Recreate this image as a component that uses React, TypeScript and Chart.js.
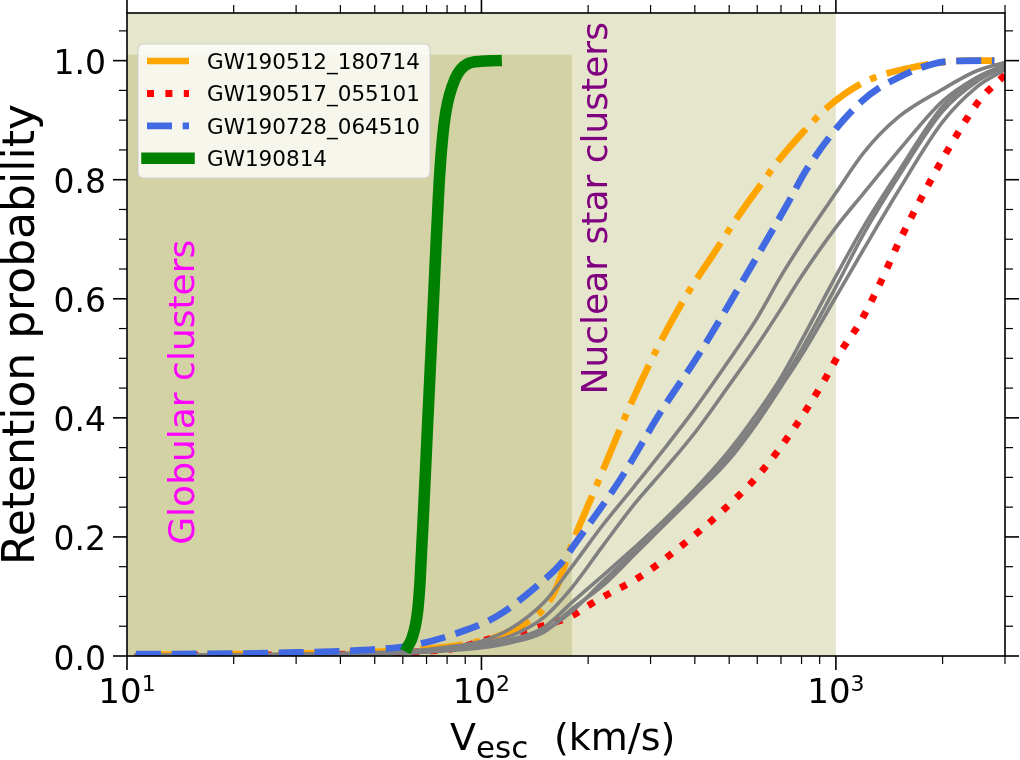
import React, { useEffect, useRef } from 'react';
import { Chart, registerables } from 'chart.js';

Chart.register(...registerables);

// Axis ranges
const V_MIN = 10;
const V_MAX = 3000;
const P_MIN = 0;
const P_MAX = 1.08;

// Shaded regions
const NSC_V_RANGE = [10, 1000];
const GC_V_RANGE = [10, 180];
const GC_P_TOP = 1.01;
const REGION_FILL = 'rgba(128, 128, 0, 0.2)';

// Region labels (data coords of text anchor: baseline x, centre y)
const GC_LABEL = { text: 'Globular clusters', v: 15.5, p: 0.443, color: '#ff00ff' };
const NSC_LABEL = { text: 'Nuclear star clusters', v: 226, p: 0.752, color: '#800080' };

// Ticks
const X_MAJOR_TICKS = [10, 100, 1000];
const X_MAJOR_EXPONENTS = ['1', '2', '3'];
const X_MINOR_TICKS = [20, 30, 40, 50, 60, 70, 80, 90, 200, 300, 400, 500, 600, 700, 800, 900, 2000, 3000];
const Y_MAJOR_TICKS = [0, 0.2, 0.4, 0.6, 0.8, 1.0];
const Y_MINOR_TICKS = [0.05, 0.1, 0.15, 0.25, 0.3, 0.35, 0.45, 0.5, 0.55, 0.65, 0.7, 0.75, 0.85, 0.9, 0.95, 1.05];

// GW190512_180714
const ORANGE_V = [10.6, 20, 30, 50, 70, 90, 110, 137, 150, 163, 178, 216, 262, 319, 387, 448, 525, 611, 695, 800, 962, 1222, 1690, 2339, 2800];
const ORANGE_P = [0.002, 0.003, 0.004, 0.007, 0.012, 0.02, 0.032, 0.06, 0.08, 0.115, 0.18, 0.3, 0.419, 0.526, 0.615, 0.672, 0.735, 0.79, 0.835, 0.877, 0.925, 0.966, 0.99, 1.0, 1.0];

// GW190517_055101
const RED_V = [10.6, 30, 50, 70, 85, 103, 125, 146, 178, 202, 220, 280, 363, 471, 611, 757, 919, 1026, 1169, 1306, 1517, 1880, 2239, 2547, 3000];
const RED_P = [0.001, 0.002, 0.004, 0.008, 0.013, 0.027, 0.038, 0.049, 0.066, 0.086, 0.099, 0.133, 0.183, 0.24, 0.307, 0.38, 0.459, 0.509, 0.56, 0.615, 0.699, 0.806, 0.884, 0.934, 0.976];

// GW190728_064510
const BLUE_V = [10.6, 20, 30, 40, 50, 64, 85, 110, 143, 168, 181, 246, 319, 413, 535, 741, 826, 1169, 1517, 2100, 2800];
const BLUE_P = [0.003, 0.004, 0.006, 0.008, 0.011, 0.018, 0.038, 0.066, 0.117, 0.156, 0.183, 0.296, 0.408, 0.509, 0.621, 0.766, 0.817, 0.929, 0.973, 0.999, 1.0];

// GW190814
const GREEN_V = [62, 63.7, 65.3, 66.2, 67.1, 68.8, 70.6, 72.5, 74.4, 75.9, 77.4, 79.4, 84.2, 91.6, 100, 110];
const GREEN_P = [0.016, 0.03, 0.055, 0.08, 0.125, 0.254, 0.398, 0.542, 0.686, 0.79, 0.86, 0.915, 0.969, 0.995, 0.999, 1.0];

// other events (grey)
const GRAY_V = [10.6, 20, 30, 40, 50, 60, 70, 80, 100, 120, 150, 180, 220, 270, 330, 400, 500, 600, 700, 800, 1000, 1200, 1500, 2000, 2500, 3000];
const GRAY_P1 = [0.001, 0.002, 0.003, 0.004, 0.006, 0.008, 0.011, 0.015, 0.025, 0.045, 0.09, 0.15, 0.22, 0.285, 0.35, 0.415, 0.497, 0.568, 0.638, 0.693, 0.778, 0.846, 0.905, 0.952, 0.983, 0.997];
const GRAY_P2 = [0.001, 0.002, 0.003, 0.004, 0.005, 0.007, 0.01, 0.014, 0.022, 0.033, 0.065, 0.115, 0.185, 0.255, 0.315, 0.375, 0.455, 0.522, 0.583, 0.638, 0.72, 0.778, 0.848, 0.932, 0.972, 0.993];
const GRAY_P3 = [0.001, 0.001, 0.002, 0.003, 0.004, 0.006, 0.008, 0.011, 0.018, 0.027, 0.048, 0.09, 0.135, 0.182, 0.23, 0.28, 0.345, 0.408, 0.468, 0.53, 0.638, 0.722, 0.813, 0.923, 0.97, 0.99];
const GRAY_P4 = [0.001, 0.001, 0.002, 0.003, 0.004, 0.005, 0.007, 0.01, 0.016, 0.025, 0.042, 0.075, 0.125, 0.175, 0.222, 0.272, 0.337, 0.398, 0.458, 0.515, 0.62, 0.71, 0.805, 0.915, 0.965, 0.99];
const GRAY_P5 = [0.001, 0.001, 0.002, 0.002, 0.003, 0.005, 0.007, 0.009, 0.014, 0.022, 0.04, 0.079, 0.118, 0.17, 0.222, 0.271, 0.33, 0.392, 0.452, 0.505, 0.603, 0.684, 0.781, 0.897, 0.956, 0.985];
const GRAY_SERIES = [GRAY_P1, GRAY_P2, GRAY_P3, GRAY_P4, GRAY_P5];

const FONT = '"DejaVu Sans", "Liberation Sans", sans-serif';

const toPoints = (v: number[], p: number[]) => v.map((x, i) => ({ x, y: p[i] }));

const decorPlugin = {
  id: 'decor',
  beforeDatasetsDraw(chart: any) {
    const { ctx, scales: { x, y } } = chart;
    ctx.save();
    ctx.fillStyle = REGION_FILL;
    // nuclear star clusters band (full height)
    let x0 = x.getPixelForValue(NSC_V_RANGE[0]);
    let x1 = x.getPixelForValue(NSC_V_RANGE[1]);
    ctx.fillRect(x0, y.getPixelForValue(P_MAX), x1 - x0, y.getPixelForValue(P_MIN) - y.getPixelForValue(P_MAX));
    // globular clusters band
    x0 = x.getPixelForValue(GC_V_RANGE[0]);
    x1 = x.getPixelForValue(GC_V_RANGE[1]);
    ctx.fillRect(x0, y.getPixelForValue(GC_P_TOP), x1 - x0, y.getPixelForValue(P_MIN) - y.getPixelForValue(GC_P_TOP));
    ctx.restore();
  },
  afterDatasetsDraw(chart: any) {
    const { ctx, chartArea: a, scales: { x, y } } = chart;
    ctx.save();

    // region labels
    [GC_LABEL, NSC_LABEL].forEach(l => {
      ctx.save();
      ctx.translate(x.getPixelForValue(l.v), y.getPixelForValue(l.p));
      ctx.rotate(-Math.PI / 2);
      ctx.font = `36px ${FONT}`;
      ctx.fillStyle = l.color;
      ctx.textAlign = 'center';
      ctx.textBaseline = 'alphabetic';
      ctx.fillText(l.text, 0, 0);
      ctx.restore();
    });

    // frame
    ctx.strokeStyle = '#000';
    ctx.lineWidth = 1.6;
    ctx.strokeRect(a.left, a.top, a.right - a.left, a.bottom - a.top);

    // ticks on all four sides, pointing out
    const tick = (x0: number, y0: number, x1: number, y1: number, w: number) => {
      ctx.lineWidth = w;
      ctx.beginPath();
      ctx.moveTo(x0, y0);
      ctx.lineTo(x1, y1);
      ctx.stroke();
    };
    X_MAJOR_TICKS.forEach(v => {
      const px = x.getPixelForValue(v);
      tick(px, a.bottom, px, a.bottom + 14, 1.6);
      tick(px, a.top, px, a.top - 13, 1.6);
    });
    X_MINOR_TICKS.forEach(v => {
      const px = x.getPixelForValue(v);
      tick(px, a.bottom, px, a.bottom + 8, 1.2);
      tick(px, a.top, px, a.top - 8, 1.2);
    });
    Y_MAJOR_TICKS.forEach(v => {
      const py = y.getPixelForValue(v);
      tick(a.left, py, a.left - 14, py, 1.6);
      tick(a.right, py, a.right + 14, py, 1.6);
    });
    Y_MINOR_TICKS.forEach(v => {
      const py = y.getPixelForValue(v);
      tick(a.left, py, a.left - 8, py, 1.2);
      tick(a.right, py, a.right + 8, py, 1.2);
    });

    // tick labels
    ctx.fillStyle = '#000';
    ctx.textBaseline = 'alphabetic';
    ctx.textAlign = 'right';
    ctx.font = `33px ${FONT}`;
    Y_MAJOR_TICKS.forEach(v => {
      ctx.fillText(v.toFixed(1), a.left - 21, y.getPixelForValue(v) + 13.5);
    });
    ctx.textAlign = 'left';
    X_MAJOR_TICKS.forEach((v, i) => {
      const px = x.getPixelForValue(v);
      ctx.font = `34px ${FONT}`;
      const wBase = ctx.measureText('10').width;
      ctx.font = `22px ${FONT}`;
      const wSup = ctx.measureText(X_MAJOR_EXPONENTS[i]).width;
      const start = px - (wBase + wSup) / 2;
      ctx.font = `34px ${FONT}`;
      ctx.fillText('10', start, a.bottom + 47);
      ctx.font = `22px ${FONT}`;
      ctx.fillText(X_MAJOR_EXPONENTS[i], start + wBase, a.bottom + 35);
    });

    // x title: V_esc (km/s)
    const xc = (a.left + a.right) / 2;
    ctx.font = `38px ${FONT}`;
    ctx.fillText('V', xc - 116, a.bottom + 94);
    ctx.font = `31px ${FONT}`;
    ctx.fillText('esc', xc - 90, a.bottom + 102);
    ctx.font = `38px ${FONT}`;
    ctx.fillText('(km/s)', xc - 12, a.bottom + 94);

    // y title
    ctx.save();
    ctx.translate(a.left - 93, (a.top + a.bottom) / 2);
    ctx.rotate(-Math.PI / 2);
    ctx.textAlign = 'center';
    ctx.font = `44px ${FONT}`;
    ctx.fillText('Retention probability', 0, 0);
    ctx.restore();

    // legend
    const bx = a.left + 11;
    const by = a.top + 31;
    ctx.beginPath();
    ctx.roundRect(bx, by, 292, 134, 5);
    ctx.fillStyle = 'rgba(255, 255, 255, 0.8)';
    ctx.fill();
    ctx.strokeStyle = 'rgba(204, 204, 204, 0.8)';
    ctx.lineWidth = 1.2;
    ctx.stroke();

    const entries = chart.data.datasets.filter((d: any) => d.label);
    entries.sort((p: any, q: any) => p.legendRank - q.legendRank);
    entries.forEach((d: any, i: number) => {
      const ry = by + 17 + i * 32.4;
      ctx.save();
      ctx.strokeStyle = d.borderColor;
      ctx.lineWidth = d.borderWidth;
      ctx.lineCap = d.borderCapStyle || 'butt';
      ctx.setLineDash(d.borderDash || []);
      ctx.beginPath();
      ctx.moveTo(bx + 9, ry);
      ctx.lineTo(bx + 51, ry);
      ctx.stroke();
      ctx.restore();
      ctx.fillStyle = '#000';
      ctx.font = `21.5px ${FONT}`;
      ctx.textAlign = 'left';
      ctx.fillText(d.label, bx + 69, ry + 8);
    });

    ctx.restore();
  },
};

const App: React.FC = () => {
  const canvasRef = useRef<HTMLCanvasElement>(null);

  useEffect(() => {
    document.body.style.margin = '0';
    document.body.style.overflow = 'hidden';
    if (!canvasRef.current) return;

    const lineBase = {
      pointRadius: 0,
      pointHoverRadius: 0,
      fill: false,
      cubicInterpolationMode: 'monotone',
      borderJoinStyle: 'round',
    };

    const grayDatasets = GRAY_SERIES.map(p => ({
      ...lineBase,
      label: '',
      data: toPoints(GRAY_V, p),
      borderColor: '#808080',
      borderWidth: 3.6,
      borderCapStyle: 'square',
      order: 2,
    }));

    const chart = new Chart(canvasRef.current, {
      type: 'line',
      data: {
        datasets: [
          {
            ...lineBase,
            label: 'GW190814',
            legendRank: 4,
            data: toPoints(GREEN_V, GREEN_P),
            borderColor: '#008000',
            borderWidth: 11.5,
            borderCapStyle: 'square',
            order: 0,
          },
          {
            ...lineBase,
            label: 'GW190728_064510',
            legendRank: 3,
            data: toPoints(BLUE_V, BLUE_P),
            borderColor: '#4169e1',
            borderWidth: 6.7,
            borderDash: [25, 10.7],
            borderCapStyle: 'butt',
            order: 1,
          },
          ...grayDatasets,
          {
            ...lineBase,
            label: 'GW190512_180714',
            legendRank: 1,
            data: toPoints(ORANGE_V, ORANGE_P),
            borderColor: '#ffa500',
            borderWidth: 6.7,
            borderDash: [43, 10.7, 6.7, 10.7],
            borderCapStyle: 'butt',
            order: 3,
          },
          {
            ...lineBase,
            label: 'GW190517_055101',
            legendRank: 2,
            data: toPoints(RED_V, RED_P),
            borderColor: '#ff0000',
            borderWidth: 7,
            borderDash: [7, 11.4],
            borderCapStyle: 'butt',
            order: 4,
          },
        ] as any,
      },
      options: {
        responsive: false,
        animation: false,
        events: [],
        layout: { padding: { left: 127, right: 15, top: 13, bottom: 104 } },
        scales: {
          x: { type: 'logarithmic', min: V_MIN, max: V_MAX, display: false },
          y: { type: 'linear', min: P_MIN, max: P_MAX, display: false },
        },
        plugins: {
          legend: { display: false },
          tooltip: { enabled: false },
        },
      },
      plugins: [decorPlugin],
    } as any);

    return () => {
      chart.destroy();
    };
  }, []);

  return (
    <div style={{ width: 1020, height: 760, background: '#fff' }}>
      <canvas ref={canvasRef} width={1020} height={760}></canvas>
    </div>
  );
};

export default App;
